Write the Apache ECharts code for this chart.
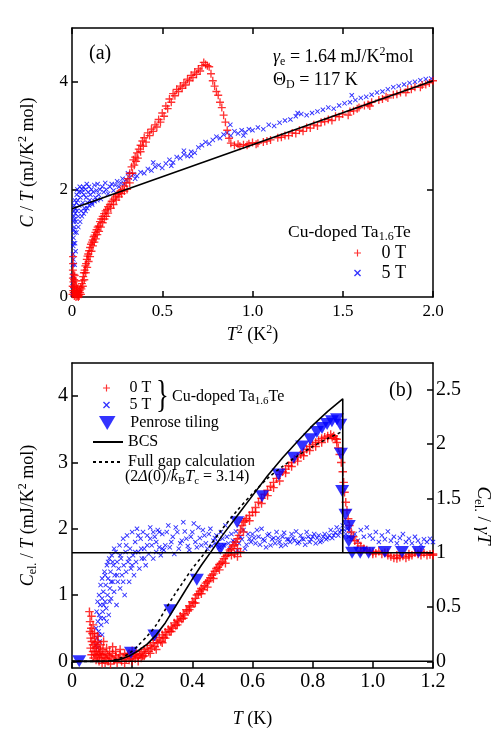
<!DOCTYPE html>
<html><head><meta charset="utf-8">
<script src="https://cdn.jsdelivr.net/npm/echarts@6/dist/echarts.min.js"></script>
<style>html,body{margin:0;padding:0;background:#fff}#c{width:491px;height:736px}</style>
</head><body><div id="c"></div>
<script>
// ---------- DATA ----------
const GAMMA = 1.64;
const XTICKS_A = [0, 0.5, 1.0, 1.5, 2.0];
const YTICKS_A = [0, 2, 4];
const XTICKS_B = [0, 0.2, 0.4, 0.6, 0.8, 1.0, 1.2];
const YTICKS_B = [0, 1, 2, 3, 4];
const YTICKS_B_RIGHT = [0, 0.5, 1, 1.5, 2, 2.5];

// panel (a): C/T vs T^2, 0 T
const A_RED = [[0.003,0.05],[0.004,0.2],[0.005,0.35],[0.005,0.5],[0.006,0.62],[0.006,0.75],[0.007,0.12],[0.008,0.28],[0.009,0.42],[0.010,0.08],[0.011,0.18],[0.012,0.32],[0.013,0.02],[0.014,0.12],[0.016,0.22],[0.018,0.05],[0.020,0.1],[0.022,0.0],[0.024,0.06],[0.026,0.12],[0.028,0.02],[0.030,0.08],[0.033,0.03],[0.036,0.1],[0.039,0.05],[0.042,0.12],[0.045,0.08],[0.048,0.18],[0.052,0.15],[0.055,0.25],[0.058,0.3],[0.062,0.38],[0.066,0.45],[0.070,0.5],[0.074,0.58],[0.078,0.62],[0.082,0.7],[0.086,0.76],[0.09,0.8],[0.095,0.86],[0.1,0.92],[0.105,0.98],[0.11,1.02],[0.115,1.06],[0.12,1.12],[0.125,1.15],[0.13,1.2],[0.136,1.25],[0.142,1.3],[0.148,1.32],[0.155,1.4],[0.162,1.45],[0.17,1.5],[0.178,1.55],[0.186,1.6],[0.194,1.63],[0.2,1.68],[0.21,1.72],[0.22,1.78],[0.23,1.82],[0.24,1.86],[0.25,1.9],[0.26,1.93],[0.27,1.97],[0.28,2.0],[0.29,2.06],[0.3,2.12],[0.31,2.2],[0.32,2.3],[0.33,2.42],[0.34,2.55],[0.35,2.6],[0.36,2.68],[0.37,2.75],[0.38,2.82],[0.39,2.9],[0.40,2.96],[0.42,3.05],[0.44,3.12],[0.46,3.2],[0.48,3.3],[0.5,3.42],[0.52,3.55],[0.54,3.68],[0.56,3.78],[0.58,3.86],[0.6,3.92],[0.62,3.98],[0.64,4.05],[0.66,4.12],[0.68,4.18],[0.7,4.24],[0.72,4.3],[0.74,4.32],[0.76,4.28],[0.77,4.15],[0.78,4.02],[0.79,3.92],[0.8,3.82],[0.81,3.75],[0.82,3.62],[0.83,3.52],[0.84,3.38],[0.85,3.25],[0.86,3.1],[0.87,2.95],[0.88,2.86],[0.9,2.82],[0.92,2.84],[0.95,2.83],[0.98,2.85],[1.0,2.87],[1.03,2.86],[1.06,2.88],[1.1,2.92],[1.14,2.96],[1.18,3.0],[1.22,3.05],[1.26,3.1],[1.3,3.15],[1.34,3.2],[1.38,3.25],[1.42,3.3],[1.46,3.36],[1.5,3.4],[1.54,3.45],[1.58,3.5],[1.62,3.56],[1.66,3.62],[1.7,3.66],[1.74,3.72],[1.78,3.76],[1.82,3.8],[1.86,3.86],[1.9,3.9],[1.94,3.94],[1.98,3.98],[2.0,4.02],
[0.015,0.4],[0.02,0.3],[0.025,0.2],[0.03,0.15],[0.035,0.0],[0.04,0.02],[0.05,0.05],[0.06,0.2],[0.068,0.32],[0.076,0.45],[0.084,0.55],[0.092,0.66],[0.1,0.75],[0.108,0.85],[0.116,0.95],[0.124,1.02],[0.132,1.08],[0.14,1.16],[0.15,1.22],[0.16,1.3],[0.17,1.38],[0.18,1.45],[0.19,1.5],[0.2,1.56],[0.215,1.65],[0.23,1.72],[0.245,1.8],[0.26,1.86],[0.275,1.92],[0.29,1.97],[0.305,2.0],[0.32,2.12],[0.335,2.3],[0.345,2.45],[0.355,2.52],[0.365,2.58],[0.38,2.7],[0.395,2.8],[0.41,2.88],[0.43,3.0],[0.45,3.08],[0.47,3.16],[0.49,3.25],[0.51,3.36],[0.53,3.5],[0.55,3.62],[0.57,3.74],[0.59,3.82],[0.61,3.88],[0.63,3.94],[0.65,4.02],[0.67,4.08],[0.69,4.14],[0.71,4.2],[0.73,4.36],[0.75,4.3],
[0.93,2.8],[0.97,2.82],[1.02,2.84],[1.08,2.9],[1.16,2.97],[1.24,3.04],[1.32,3.14],[1.4,3.26],[1.48,3.35],[1.56,3.46],[1.64,3.58],[1.72,3.68],[1.8,3.77],[1.88,3.86],[1.96,3.95],[1.53,3.38],[1.65,3.55],[1.2,3.0],[1.28,3.08],[1.36,3.18],[1.44,3.28],[1.85,3.8],[1.75,3.7],[1.93,3.9],[1.59,3.52]];

// panel (a): 5 T
const A_BLUE = [[0.002,0.05],[0.003,0.2],[0.004,0.4],[0.005,0.6],[0.006,0.8],[0.007,0.95],[0.008,1.1],[0.009,1.25],[0.010,1.4],[0.011,1.5],[0.012,1.6],[0.013,1.7],[0.015,1.8],[0.006,0.3],[0.008,0.7],[0.010,1.0],[0.012,1.3],[0.014,1.45],[0.016,1.2],[0.018,1.55],[0.02,1.65],[0.022,1.4],[0.024,1.75],[0.026,1.9],[0.028,1.6],[0.03,2.0],[0.032,1.8],[0.035,1.5],[0.038,1.95],[0.04,1.7],[0.043,2.05],[0.046,1.85],[0.05,1.6],[0.053,1.95],[0.056,2.0],[0.06,1.75],[0.063,2.05],[0.066,1.9],[0.07,1.65],[0.074,2.0],[0.078,1.85],[0.082,2.1],[0.086,1.75],[0.09,1.95],[0.094,2.05],[0.098,1.8],[0.102,1.9],[0.108,2.0],[0.112,1.72],[0.118,1.95],[0.124,2.08],[0.13,1.85],[0.136,1.98],[0.142,2.1],[0.148,1.9],[0.155,2.0],[0.16,1.82],[0.168,2.05],[0.176,1.95],[0.184,2.12],[0.19,2.0],[0.2,1.92],[0.21,2.05],[0.22,2.1],[0.23,1.98],[0.24,2.08],[0.25,2.15],[0.26,2.05],[0.27,2.12],[0.28,2.2],[0.29,2.1],[0.3,2.18],[0.32,2.22],[0.34,2.28],[0.36,2.25],[0.38,2.32],[0.4,2.3],[0.42,2.38],[0.44,2.35],[0.46,2.42],[0.48,2.45],[0.5,2.4],[0.52,2.48],[0.54,2.55],[0.56,2.5],[0.58,2.6],[0.6,2.58],[0.62,2.65],[0.64,2.62],[0.66,2.7],[0.68,2.68],[0.7,2.78],[0.72,2.82],[0.74,2.88],[0.76,2.85],[0.78,2.92],[0.8,2.98],[0.82,2.95],[0.84,3.02],[0.86,3.05],[0.88,3.0],[0.9,3.08],[0.92,3.04],[0.94,3.1],[0.96,3.06],[0.98,3.12],[1.0,3.1],[1.03,3.15],[1.06,3.12],[1.09,3.2],[1.12,3.18],[1.15,3.24],[1.18,3.28],[1.21,3.3],[1.24,3.36],[1.27,3.4],[1.3,3.38],[1.33,3.42],[1.36,3.45],[1.39,3.48],[1.42,3.52],[1.45,3.5],[1.48,3.56],[1.51,3.6],[1.54,3.62],[1.57,3.66],[1.6,3.7],[1.63,3.72],[1.66,3.76],[1.69,3.8],[1.72,3.82],[1.75,3.86],[1.78,3.9],[1.81,3.92],[1.84,3.95],[1.87,3.98],[1.9,4.0],[1.93,4.03],[1.96,4.05],[1.99,4.06],
[0.025,1.2],[0.035,1.3],[0.045,1.4],[0.055,1.5],[0.065,1.55],[0.075,1.6],[0.085,1.65],[0.095,1.7],[0.11,1.75],[0.125,1.78],[0.14,1.8],[0.017,1.0],[0.02,0.85],[0.015,0.6],[0.877,3.2],[0.95,3.0],[1.25,3.42],[1.55,3.75],[0.31,2.3],[0.45,2.5],[0.62,2.72],[0.35,2.2],[0.55,2.44],[0.66,2.62]];

// panel (b): Cel/T vs T, 0 T
const B_RED = [[0.058,0.75],[0.06,0.6],[0.06,0.45],[0.062,0.35],[0.062,0.2],[0.064,0.5],[0.065,0.1],[0.066,0.3],[0.068,0.42],[0.07,0.15],[0.07,0.25],[0.072,0.05],[0.074,0.35],[0.075,0.2],[0.076,0.1],[0.078,0.28],[0.08,0.02],[0.08,0.15],[0.082,0.22],[0.084,0.08],[0.086,0.3],[0.088,0.12],[0.09,0.0],[0.09,0.2],[0.092,0.1],[0.095,0.15],[0.097,0.05],[0.1,0.1],[0.1,-0.03],[0.103,0.18],[0.106,0.06],[0.11,0.12],[0.11,-0.02],[0.114,0.04],[0.118,0.1],[0.12,0.0],[0.124,0.08],[0.128,-0.04],[0.13,0.05],[0.135,0.12],[0.14,0.02],[0.145,0.08],[0.15,-0.02],[0.155,0.05],[0.16,0.1],[0.165,0.0],[0.17,0.06],[0.175,-0.03],[0.18,0.04],[0.185,0.1],[0.19,0.02],[0.195,0.07],[0.2,0.0],[0.205,0.08],[0.21,0.04],[0.215,0.12],[0.22,0.06],[0.225,0.1],[0.23,0.15],[0.235,0.08],[0.24,0.18],[0.245,0.12],[0.25,0.2],[0.255,0.15],[0.26,0.24],[0.265,0.2],[0.27,0.28],[0.275,0.22],[0.28,0.32],[0.285,0.28],[0.29,0.36],[0.295,0.3],[0.3,0.4],[0.305,0.36],[0.31,0.44],[0.315,0.4],[0.32,0.48],[0.325,0.45],[0.33,0.52],[0.335,0.5],[0.34,0.58],[0.345,0.54],[0.35,0.62],[0.355,0.6],[0.36,0.68],[0.365,0.64],[0.37,0.72],[0.375,0.7],[0.38,0.78],[0.385,0.76],[0.39,0.84],[0.395,0.82],[0.4,0.9],[0.405,0.88],[0.41,0.95],[0.415,1.0],[0.42,1.02],[0.425,1.06],[0.43,1.1],[0.435,1.08],[0.44,1.14],[0.445,1.18],[0.45,1.2],[0.455,1.22],[0.46,1.26],[0.465,1.3],[0.47,1.32],[0.475,1.36],[0.48,1.4],[0.485,1.42],[0.49,1.46],[0.495,1.48],[0.5,1.5],[0.505,1.55],[0.51,1.58],[0.515,1.6],[0.52,1.64],[0.525,1.68],[0.53,1.7],[0.535,1.74],[0.54,1.76],[0.545,1.8],[0.55,1.85],[0.555,1.9],[0.56,1.98],[0.565,2.05],[0.57,2.1],[0.575,2.12],[0.58,2.15],[0.59,2.2],[0.6,2.25],[0.61,2.32],[0.62,2.4],[0.63,2.46],[0.64,2.52],[0.65,2.58],[0.66,2.64],[0.67,2.7],[0.68,2.76],[0.69,2.82],[0.7,2.86],[0.71,2.9],[0.72,2.95],[0.73,3.0],[0.74,3.05],[0.75,3.08],[0.76,3.12],[0.77,3.16],[0.78,3.2],[0.79,3.24],[0.8,3.27],[0.81,3.3],[0.82,3.33],[0.83,3.36],[0.84,3.38],[0.85,3.4],[0.86,3.42],[0.87,3.4],[0.875,3.36],[0.88,3.3],[0.885,3.22],[0.89,3.12],[0.895,3.0],[0.9,2.86],[0.903,2.7],[0.906,2.55],[0.91,2.4],[0.914,2.28],[0.918,2.15],[0.922,2.05],[0.928,1.95],[0.935,1.88],[0.94,1.82],[0.95,1.78],[0.96,1.74],[0.97,1.7],[0.98,1.68],[0.99,1.66],[1.0,1.65],[1.01,1.63],[1.02,1.66],[1.03,1.62],[1.04,1.64],[1.05,1.6],[1.06,1.58],[1.07,1.56],[1.08,1.6],[1.09,1.57],[1.1,1.59],[1.11,1.56],[1.12,1.62],[1.13,1.6],[1.14,1.64],[1.15,1.62],[1.16,1.6],[1.17,1.63],[1.18,1.6],[1.19,1.61],[1.2,1.6],
[0.31,0.35],[0.33,0.45],[0.35,0.55],[0.37,0.65],[0.39,0.78],[0.41,0.88],[0.43,1.02],[0.45,1.12],[0.47,1.25],[0.49,1.38],[0.51,1.48],[0.53,1.6],[0.55,1.7],[0.57,1.95],[0.59,2.12],[0.61,2.25],[0.63,2.38],[0.65,2.5],[0.67,2.62],[0.69,2.72],[0.71,2.84],[0.73,2.94],[0.75,3.02],[0.77,3.1],[0.79,3.18],[0.81,3.24],[0.83,3.3],[0.85,3.36],[0.865,3.38],[0.88,3.35],[0.07,0.55],[0.065,0.68],[0.075,0.42],[0.085,0.38],[0.095,0.25],[0.105,0.3],[0.115,0.2],[0.125,0.15],[0.135,0.22],[0.145,0.15],[0.16,0.18],[0.175,0.12],[0.19,0.12],[0.2,0.16],[0.21,0.1],[0.22,0.0],[0.23,0.05],[0.24,0.08],[0.26,0.12],[0.28,0.18],[0.3,0.28],[0.54,1.62],[0.55,1.58],[0.56,1.65],[0.96,1.66],[1.0,1.62],[1.05,1.64],[1.08,1.55],[1.12,1.58],[1.16,1.65],[1.2,1.62]];

// panel (b): 5 T
const B_BLUE = [[0.08,0.25],[0.08,0.5],[0.082,0.75],[0.084,0.35],[0.085,0.9],[0.086,0.6],[0.088,0.45],[0.09,1.0],[0.09,0.7],[0.092,0.3],[0.094,0.85],[0.095,1.15],[0.097,0.55],[0.1,0.95],[0.1,1.25],[0.102,0.75],[0.104,1.05],[0.106,0.65],[0.108,1.35],[0.11,0.9],[0.112,1.15],[0.114,0.8],[0.116,1.45],[0.118,1.0],[0.12,1.25],[0.122,0.7],[0.124,1.55],[0.126,1.1],[0.128,1.35],[0.13,0.95],[0.132,1.6],[0.135,1.2],[0.138,1.45],[0.14,1.05],[0.142,1.3],[0.145,1.65],[0.148,0.85],[0.15,1.5],[0.152,1.2],[0.155,1.4],[0.158,1.75],[0.16,1.1],[0.163,1.55],[0.166,1.3],[0.17,1.85],[0.172,1.45],[0.175,1.0],[0.178,1.65],[0.18,1.35],[0.183,1.9],[0.186,1.5],[0.19,1.2],[0.193,1.7],[0.196,1.4],[0.2,1.95],[0.203,1.6],[0.206,1.3],[0.21,1.8],[0.213,1.5],[0.216,2.0],[0.22,1.65],[0.224,1.4],[0.228,1.85],[0.232,1.55],[0.236,1.95],[0.24,1.7],[0.245,1.45],[0.25,1.9],[0.255,1.62],[0.26,2.02],[0.265,1.75],[0.27,1.55],[0.275,1.88],[0.28,1.65],[0.285,1.98],[0.29,1.72],[0.295,1.6],[0.3,1.92],[0.31,1.75],[0.32,2.05],[0.33,1.8],[0.34,1.62],[0.35,1.95],[0.36,1.78],[0.37,2.1],[0.38,1.85],[0.39,1.68],[0.4,1.95],[0.41,1.8],[0.42,2.02],[0.43,1.75],[0.44,1.9],[0.45,1.7],[0.46,2.0],[0.47,1.82],[0.48,1.9],[0.49,1.72],[0.5,1.85],[0.51,2.05],[0.52,1.78],[0.53,1.92],[0.54,1.8],[0.55,1.68],[0.56,1.88],[0.57,1.98],[0.58,1.76],[0.59,1.85],[0.6,1.92],[0.61,1.78],[0.62,1.88],[0.63,2.0],[0.64,1.82],[0.65,1.9],[0.66,1.75],[0.67,1.86],[0.68,1.95],[0.69,1.8],[0.7,1.88],[0.71,1.76],[0.72,1.84],[0.73,1.92],[0.74,1.82],[0.75,1.78],[0.76,1.9],[0.77,1.84],[0.78,1.95],[0.79,1.8],[0.8,1.88],[0.81,1.78],[0.82,1.9],[0.83,1.82],[0.84,1.92],[0.85,1.86],[0.86,1.98],[0.87,1.9],[0.88,2.02],[0.89,1.95],[0.9,2.05],[0.905,1.98],[0.91,1.92],[0.915,2.0],[0.92,1.88],[0.925,1.95],[0.93,1.85],[0.94,1.92],[0.95,1.82],[0.96,1.98],[0.97,1.88],[0.98,2.02],[0.99,1.9],[1.0,1.85],[1.01,1.95],[1.02,1.8],[1.03,1.9],[1.04,1.84],[1.05,1.96],[1.06,1.82],[1.07,1.88],[1.08,1.78],[1.09,1.86],[1.1,1.92],[1.11,1.8],[1.12,1.85],[1.13,1.78],[1.14,1.88],[1.15,1.82],[1.16,1.76],[1.17,1.84],[1.18,1.8],[1.19,1.85],[1.2,1.8],
[0.305,1.68],[0.315,1.95],[0.325,1.72],[0.335,1.88],[0.345,2.02],[0.355,1.7],[0.365,1.82],[0.375,1.96],[0.385,1.74],[0.395,1.88],[0.405,2.08],[0.415,1.72],[0.425,1.86],[0.435,1.98],[0.445,1.78],[0.455,1.92],[0.465,1.74],[0.475,1.86],[0.485,1.8],[0.495,1.95],[0.505,1.75],[0.515,1.88],[0.525,1.7],[0.535,1.82],[0.545,1.96],[0.555,1.78],[0.565,1.84],[0.575,1.7],[0.585,1.92],[0.595,1.8],[0.605,1.86],[0.615,1.98],[0.625,1.76],[0.635,1.84],[0.645,1.72],[0.655,1.92],[0.665,1.84],[0.675,1.78],[0.685,1.86],[0.695,1.74],[0.705,1.94],[0.715,1.84],[0.725,1.8],[0.735,1.86],[0.745,1.96],[0.755,1.8],[0.765,1.85],[0.775,1.76],[0.785,1.88],[0.795,1.84],[0.805,1.92],[0.815,1.86],[0.825,1.8],[0.835,1.88],[0.845,1.84],[0.855,1.9],[0.865,1.86],[0.875,1.94],[0.885,1.9],[0.895,1.98],
[0.085,0.2],[0.09,0.4],[0.095,0.65],[0.1,0.4],[0.105,0.85],[0.11,1.3],[0.115,0.6],[0.12,1.5],[0.125,0.9],[0.13,1.2],[0.135,1.5],[0.14,1.7],[0.15,1.3],[0.16,1.6],[0.17,1.2],[0.18,1.75],[0.19,1.55],[0.2,1.45],[0.21,1.65],[0.22,1.9],[0.23,1.7],[0.24,1.55],[0.25,1.75],[0.26,1.85],[0.27,1.95],[0.28,1.8],[0.29,1.95],[0.3,1.7]];

// Penrose tiling
const PEN_T = [0.024,0.196,0.274,0.327,0.415,0.493,0.549,0.632,0.687,0.737,0.765,0.792,0.814,0.831,0.848,0.864,0.881,0.892,0.894,0.898,0.909,0.92,0.92,0.931,0.958,0.986,1.04,1.097,1.152];
const PEN_C = [0,0.13,0.39,0.77,1.23,1.70,2.10,2.49,2.82,3.07,3.24,3.35,3.46,3.52,3.58,3.62,3.65,3.57,3.13,2.57,2.21,2.04,1.81,1.64,1.64,1.64,1.65,1.65,1.65];

// BCS curve
const BCS_T = [0,0.1,0.13,0.16,0.19,0.22,0.25,0.28,0.31,0.34,0.37,0.4,0.43,0.46,0.5,0.55,0.6,0.65,0.7,0.75,0.8,0.85,0.9,0.9];
const BCS_C = [0,0,0.005,0.03,0.08,0.16,0.26,0.4,0.58,0.8,1.02,1.24,1.45,1.64,1.9,2.2,2.5,2.8,3.07,3.32,3.56,3.77,3.96,1.64];
// Full gap calculation
const FG_T = [0,0.1,0.13,0.16,0.19,0.22,0.25,0.28,0.31,0.34,0.37,0.4,0.43,0.46,0.5,0.55,0.6,0.65,0.7,0.75,0.8,0.85,0.9];
const FG_C = [0,0,0.01,0.05,0.12,0.24,0.38,0.55,0.78,1.0,1.2,1.4,1.57,1.75,2.0,2.28,2.53,2.76,2.94,3.1,3.24,3.36,3.47];
// normal-state line in (a)
const NORM_T2 = [0, 2.0];
const NORM_C = [1.64, 4.02];
// reference lines in (b)
const LINE_X = [0, 1.2];

// ---------- CHART ----------
const FONT = "'Liberation Serif', 'Times New Roman', serif";
const PLUS = 'path://M-1,-6H1V-1H6V1H1V6H-1V1H-6V-1H-1Z';
const XMARK = 'path://M-6,-4.4L-4.4,-6L0,-1.6L4.4,-6L6,-4.4L1.6,0L6,4.4L4.4,6L0,1.6L-4.4,6L-6,4.4L-1.6,0Z';
const TRI_DOWN = 'path://M-1,-0.85L1,-0.85L0,0.85Z';
const zip = (a, b) => a.map((v, i) => [v, b[i]]);
function rich(sz) {
  const sub = Math.round(sz * 0.66);
  return {
    i: {fontStyle: 'italic', fontFamily: FONT, fontSize: sz, lineHeight: sz + 4},
    n: {fontFamily: FONT, fontSize: sz, lineHeight: sz + 4},
    sub: {fontFamily: FONT, fontSize: sub, lineHeight: sub, verticalAlign: 'bottom'},
    sup: {fontFamily: FONT, fontSize: sub, lineHeight: sub, verticalAlign: 'top'}
  };
}
const RICH18 = rich(18), RICH17 = rich(17.5), RICH16 = rich(16);
const fmt1 = v => (v === 0 ? '0' : v.toFixed(1));
const lineStyleAxis = {show: true, lineStyle: {color: '#000', width: 1.5}};
const labelA = {fontFamily: FONT, fontSize: 17, color: '#000'};
const labelB = {fontFamily: FONT, fontSize: 20, color: '#000'};
const tickIn = (vals) => ({show: true, inside: true, length: 6, lineStyle: {color: '#000', width: 1.5}, customValues: vals});

const chart = echarts.init(document.getElementById('c'));
chart.setOption({
  animation: false,
  backgroundColor: '#fff',
  grid: [
    {left: 72, top: 28, width: 361, height: 269, containLabel: false, outerBoundsMode: 'none'},
    {left: 72, top: 363, width: 361, height: 305, containLabel: false, outerBoundsMode: 'none'}
  ],
  xAxis: [
    {gridIndex: 0, type: 'value', min: 0, max: 2, position: 'bottom',
      axisLine: {onZero: false, ...lineStyleAxis}, axisTick: tickIn(XTICKS_A),
      axisLabel: {...labelA, margin: 6, formatter: fmt1, customValues: XTICKS_A}, splitLine: {show: false},
      name: '{i|T}{sup|2}{n| (K}{sup|2}{n|)}', nameLocation: 'middle', nameGap: 27, nameTextStyle: {rich: RICH18}},
    {gridIndex: 0, type: 'value', min: 0, max: 2, position: 'top',
      axisLine: {onZero: false, ...lineStyleAxis}, axisTick: tickIn(XTICKS_A), axisLabel: {show: false}, splitLine: {show: false}},
    {gridIndex: 1, type: 'value', min: 0, max: 1.2, position: 'bottom',
      axisLine: {onZero: false, ...lineStyleAxis}, axisTick: tickIn(XTICKS_B),
      axisLabel: {...labelB, margin: 4, formatter: fmt1, customValues: XTICKS_B}, splitLine: {show: false},
      name: '{i|T}{n| (K)}', nameLocation: 'middle', nameGap: 40, nameTextStyle: {rich: RICH18}},
    {gridIndex: 1, type: 'value', min: 0, max: 1.2, position: 'top',
      axisLine: {onZero: false, ...lineStyleAxis}, axisTick: {show: false}, axisLabel: {show: false}, splitLine: {show: false}}
  ],
  yAxis: [
    {gridIndex: 0, type: 'value', min: 0, max: 5, position: 'left',
      axisLine: {onZero: false, ...lineStyleAxis}, axisTick: tickIn(YTICKS_A),
      axisLabel: {...labelA, margin: 4, customValues: YTICKS_A}, splitLine: {show: false},
      name: '{i|C}{n| / }{i|T}{n| (mJ/K}{sup|2}{n| mol)}', nameLocation: 'middle', nameRotate: 90, nameGap: 33, nameTextStyle: {rich: RICH18}},
    {gridIndex: 0, type: 'value', min: 0, max: 5, position: 'right',
      axisLine: {onZero: false, ...lineStyleAxis}, axisTick: tickIn(YTICKS_A.slice(1)), axisLabel: {show: false}, splitLine: {show: false}},
    {gridIndex: 1, type: 'value', min: -0.1, max: 4.5, position: 'left',
      axisLine: {onZero: false, ...lineStyleAxis}, axisTick: tickIn(YTICKS_B),
      axisLabel: {...labelB, margin: 4, customValues: YTICKS_B}, splitLine: {show: false},
      name: '{i|C}{sub|el.}{n| / }{i|T}{n| (mJ/K}{sup|2}{n| mol)}', nameLocation: 'middle', nameRotate: 90, nameGap: 33, nameTextStyle: {rich: RICH18}},
    {gridIndex: 1, type: 'value', min: -0.1 / GAMMA, max: 4.5 / GAMMA, position: 'right',
      axisLine: {onZero: false, ...lineStyleAxis}, axisTick: tickIn(YTICKS_B_RIGHT),
      axisLabel: {...labelB, margin: 3, customValues: YTICKS_B_RIGHT}, splitLine: {show: false},
      name: '{i|C}{sub|el.}{n| / }{i|γT}', nameLocation: 'middle', nameRotate: -90, nameGap: 28, nameTextStyle: {rich: rich(19)}}
  ],
  legend: [
    {data: ['0 T', '5 T'], orient: 'vertical', left: 354, top: 244, itemWidth: 38, itemHeight: 7, itemGap: 2,
      selectedMode: false, textStyle: {fontFamily: FONT, fontSize: 18, color: '#000'}, padding: 0},
    {data: ['0 T', '5 T'], orient: 'vertical', left: 103, top: 380, itemWidth: 36, itemHeight: 7, itemGap: 1,
      selectedMode: false, textStyle: {fontFamily: FONT, fontSize: 16, color: '#000'}, padding: 0},
    {data: ['Penrose tiling'], orient: 'vertical', left: 99, top: 415, itemWidth: 36, itemHeight: 14, itemGap: 0,
      selectedMode: false, textStyle: {fontFamily: FONT, fontSize: 16, color: '#000'}, padding: 0},
    {data: ['BCS', 'Full gap calculation'], orient: 'vertical', left: 92, top: 434, itemWidth: 30, itemHeight: 14, itemGap: 4,
      selectedMode: false, textStyle: {fontFamily: FONT, fontSize: 16, color: '#000'}, padding: 0}
  ],
  series: [
    {name: '5 T', type: 'scatter', xAxisIndex: 0, yAxisIndex: 0, data: A_BLUE, symbol: XMARK, symbolSize: 5,
      itemStyle: {color: '#0000ff'}, silent: true},
    {name: '0 T', type: 'scatter', xAxisIndex: 0, yAxisIndex: 0, data: A_RED, symbol: PLUS, symbolSize: 8,
      itemStyle: {color: '#ff0000'}, silent: true},
    {name: 'normal', type: 'line', xAxisIndex: 0, yAxisIndex: 0, data: zip(NORM_T2, NORM_C), symbol: 'none',
      lineStyle: {color: '#000', width: 1.6}, silent: true},
    {name: '5 T', type: 'scatter', xAxisIndex: 2, yAxisIndex: 2, data: B_BLUE, symbol: XMARK, symbolSize: 5,
      itemStyle: {color: '#0000ff'}, silent: true},
    {name: '0 T', type: 'scatter', xAxisIndex: 2, yAxisIndex: 2, data: B_RED, symbol: PLUS, symbolSize: 8.5,
      itemStyle: {color: '#ff0000'}, silent: true},
    {name: 'zero', type: 'line', xAxisIndex: 2, yAxisIndex: 2, data: zip(LINE_X, [0, 0]), symbol: 'none',
      lineStyle: {color: '#000', width: 1.5}, silent: true},
    {name: 'gamma', type: 'line', xAxisIndex: 2, yAxisIndex: 2, data: zip(LINE_X, [GAMMA, GAMMA]), symbol: 'none',
      lineStyle: {color: '#000', width: 1.5}, silent: true},
    {name: 'Full gap calculation', type: 'line', xAxisIndex: 2, yAxisIndex: 2, data: zip(FG_T, FG_C), symbol: 'none', smooth: 0.3,
      lineStyle: {color: '#000', width: 1.6, type: [3, 3]}, itemStyle: {color: 'rgba(0,0,0,0)'}, silent: true},
    {name: 'BCS', type: 'line', xAxisIndex: 2, yAxisIndex: 2, data: zip(BCS_T, BCS_C), symbol: 'none',
      lineStyle: {color: '#000', width: 1.6}, itemStyle: {color: 'rgba(0,0,0,0)'}, silent: true},
    {name: 'Penrose tiling', type: 'scatter', xAxisIndex: 2, yAxisIndex: 2, data: zip(PEN_T, PEN_C), symbol: TRI_DOWN,
      symbolSize: [14, 12], itemStyle: {color: '#0000ff'}, silent: true}
  ],
  graphic: [
    {type: 'text', left: 89, top: 44, style: {text: '(a)', font: '20px ' + FONT, fill: '#000'}},
    {type: 'text', x: 273, y: 57, style: {text: '{i|γ}{sub|e}{n| = 1.64 mJ/K}{sup|2}{n|mol}', rich: RICH18, verticalAlign: 'middle', fill: '#000'}},
    {type: 'text', x: 273, y: 80, style: {text: '{n|Θ}{sub|D}{n| = 117 K}', rich: RICH18, verticalAlign: 'middle', fill: '#000'}},
    {type: 'text', x: 288, y: 232, style: {text: '{n|Cu-doped Ta}{sub|1.6}{n|Te}', rich: RICH17, verticalAlign: 'middle', fill: '#000'}},
    {type: 'text', left: 389, top: 381, style: {text: '(b)', font: '20px ' + FONT, fill: '#000'}},
    {type: 'text', x: 156, y: 397, scaleX: 0.7, style: {text: '}', font: '38px ' + FONT, verticalAlign: 'middle', fill: '#000'}},
    {type: 'text', x: 172, y: 397, style: {text: '{n|Cu-doped Ta}{sub|1.6}{n|Te}', rich: RICH16, verticalAlign: 'middle', fill: '#000'}},
    {type: 'text', x: 125, y: 477, style: {text: '{n|(2}{i|Δ}{n|(0)/}{i|k}{sub|B}{i|T}{sub|c}{n| = 3.14)}', rich: RICH16, verticalAlign: 'middle', fill: '#000'}}
  ]
});
</script></body></html>
